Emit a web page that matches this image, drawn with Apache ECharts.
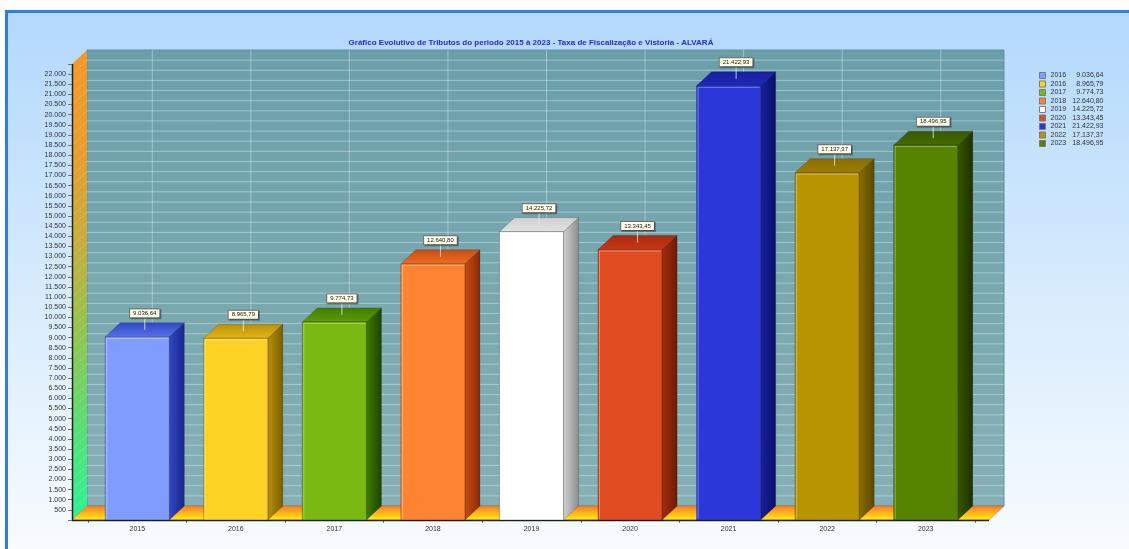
<!DOCTYPE html>
<html><head><meta charset="utf-8">
<script src="https://cdn.jsdelivr.net/npm/echarts@6/dist/echarts.min.js"></script>
<style>html,body{margin:0;padding:0;background:#fff}#c{width:1129px;height:549px}</style>
</head><body><div id="c"></div>
<script>
// ---- data ----
const categories = ['2015','2016','2017','2018','2019','2020','2021','2022','2023'];
const values = [9036.64, 8965.79, 9774.73, 12640.80, 14225.72, 13343.45, 21422.93, 17137.37, 18496.95];
const legendYears = ['2016','2016','2017','2018','2019','2020','2021','2022','2023'];
const yMin = 0, yMax = 22500, yStep = 500;
const titleText = 'Gráfico Evolutivo de Tributos do periodo 2015 à 2023 - Taxa de Fiscalização e Vistoria - ALVARÁ';

// ---- styles ----
const frontColors = ['#7f9cfe','#fcd225','#79b911','#fe8431','#ffffff','#e14b21','#2b37d9','#b89400','#568300'];
const topColors   = ['#5670e5','#e6b414','#5e9c07','#ee6e22','#e2e2e2','#c93715','#1f29b8','#9c7c00','#456b00'];
const sideColors  = ['#3048c8','#b8900a','#3f7d00','#c84c12','#d0d0d0','#a82c0c','#1820a0','#8a6e00','#385800'];
const sideDark    = ['#18258a','#7a5e00','#1c4400','#8a2a05','#8c8c8c','#6c1a05','#0a0f68','#5a4800','#1c3000'];
const DX = 15, DY = 14;
const FONT = 'Liberation Sans, Arial, sans-serif';

function fmt(v, dec) {
  const s = v.toFixed(dec);
  const parts = s.split('.');
  const int = parts[0].replace(/\B(?=(\d{3})+(?!\d))/g, '.');
  return dec ? int + ',' + parts[1] : int;
}
const LG = echarts.graphic.LinearGradient;

const chart = echarts.init(document.getElementById('c'), null, {renderer: 'canvas'});

function renderBackground(params, api) {
  const n = categories.length;
  const bw = api.size([1, 0])[0];
  const pFirst = api.coord([0, yMin]);
  const pLast = api.coord([n - 1, yMin]);
  const pTop = api.coord([0, yMax]);
  const fl = pFirst[0] - bw / 2 - 16;
  const fr = pLast[0] + bw / 2 + 14;
  const y0 = pFirst[1], yt = pTop[1];
  const ch = [];
  // back wall
  ch.push({type: 'polygon', shape: {points: [[fl + DX, yt - DY], [fr + DX, yt - DY], [fr + DX, y0 - DY], [fl + DX, y0 - DY]]},
    style: {fill: new LG(0, 0, 0, 1, [{offset: 0, color: '#6a9faa'}, {offset: 1, color: '#86b0b5'}]), stroke: '#5d8f99', lineWidth: 1}});
  // left wall
  ch.push({type: 'polygon', shape: {points: [[fl, yt], [fl + DX, yt - DY], [fl + DX, y0 - DY], [fl, y0]]},
    style: {fill: new LG(0, 0, 0, 1, [{offset: 0, color: '#f59828'}, {offset: 0.22, color: '#e89e2e'}, {offset: 0.42, color: '#c4ae3e'}, {offset: 0.6, color: '#92c650'}, {offset: 0.8, color: '#5ade74'}, {offset: 1, color: '#2cf496'}])}});
  // gridlines
  for (let v = yMin + yStep; v < yMax; v += yStep) {
    const y = api.coord([0, v])[1];
    ch.push({type: 'line', shape: {x1: fl + DX, y1: y - DY, x2: fr + DX, y2: y - DY}, style: {stroke: 'rgba(215,232,235,0.5)', lineWidth: 1}});
    ch.push({type: 'line', shape: {x1: fl, y1: y, x2: fl + DX, y2: y - DY}, style: {stroke: 'rgba(255,255,255,0.15)', lineWidth: 1}});
  }
  for (let i = 0; i < n; i++) {
    const x = api.coord([i, 0])[0] + DX;
    ch.push({type: 'line', shape: {x1: x, y1: yt - DY, x2: x, y2: y0 - DY}, style: {stroke: 'rgba(215,232,235,0.5)', lineWidth: 1}});
  }
  // floor
  ch.push({type: 'polygon', shape: {points: [[fl, y0], [fl + DX, y0 - DY], [fr + DX, y0 - DY], [fr, y0]]},
    style: {fill: new LG(0, 0, 0, 1, [{offset: 0, color: '#f47c2c'}, {offset: 0.5, color: '#ffb41a'}, {offset: 1, color: '#fff10a'}]), stroke: '#c46a20', lineWidth: 0.5}});
  ch.push({type: 'line', shape: {x1: fl, y1: y0 + 0.5, x2: fr, y2: y0 + 0.5}, style: {stroke: '#222', lineWidth: 1.5}});
  ch.push({type: 'line', shape: {x1: fl + 0.5, y1: yt, x2: fl + 0.5, y2: y0}, style: {stroke: '#222', lineWidth: 1.5}});
  return {type: 'group', children: ch};
}

function makeBarRenderer(i) {
  return function (params, api) {
    const idx = api.value(0), v = api.value(1);
    const base = api.coord([idx, yMin]);
    const top = api.coord([idx, v]);
    const bw = api.size([1, 0])[0];
    const w = bw * 0.65;
    const x0 = base[0] - w / 2, x1 = base[0] + w / 2, yb = base[1], yt = top[1];
    const cx = base[0] + DX / 2;
    return {type: 'group', children: [
      {type: 'polygon', shape: {points: [[x1, yt], [x1 + DX, yt - DY], [x1 + DX, yb - DY], [x1, yb]]},
        style: {fill: new LG(0, 0, 1, 0, [{offset: 0, color: sideColors[i]}, {offset: 1, color: sideDark[i]}]), stroke: 'rgba(0,0,0,0.35)', lineWidth: 0.5}},
      {type: 'polygon', shape: {points: [[x0, yt], [x0 + DX, yt - DY], [x1 + DX, yt - DY], [x1, yt]]},
        style: {fill: new LG(0, 1, 0, 0, [{offset: 0, color: topColors[i]}, {offset: 1, color: sideColors[i]}]), stroke: 'rgba(0,0,0,0.35)', lineWidth: 0.5}},
      {type: 'rect', shape: {x: x0, y: yt, width: w, height: yb - yt},
        style: {fill: frontColors[i], stroke: 'rgba(0,0,0,0.35)', lineWidth: 0.8}},
      {type: 'line', shape: {x1: x0 + 1.5, y1: yt + 1.5, x2: x0 + 1.5, y2: yb - 1}, style: {stroke: 'rgba(255,255,255,0.35)', lineWidth: 1}},
      {type: 'line', shape: {x1: x0 + 1.5, y1: yt + 1.5, x2: x1 - 1, y2: yt + 1.5}, style: {stroke: 'rgba(255,255,255,0.35)', lineWidth: 1}},
      {type: 'line', shape: {x1: cx, y1: yt - DY / 2, x2: cx, y2: yt - 19}, style: {stroke: 'rgba(235,240,240,0.8)', lineWidth: 1}},
      {type: 'text', x: cx, y: yt - 23.5,
        style: {text: fmt(v, 2), align: 'center', verticalAlign: 'middle', fontSize: 6, fontFamily: FONT, fill: '#222',
          backgroundColor: '#fffbe6', borderColor: '#6f6f6f', borderWidth: 1, padding: [1, 3, 1, 3],
          shadowColor: 'rgba(0,0,0,0.3)', shadowOffsetX: 1, shadowOffsetY: 1}}
    ]};
  };
}

const series = [{
  type: 'custom', name: 'bg', silent: true, z: 1, data: [[0, 0]], renderItem: renderBackground
}];
categories.forEach((c, i) => {
  series.push({
    type: 'custom', name: 's' + i, z: 3 + i, data: [[i, values[i]]],
    itemStyle: {color: frontColors[i]}, renderItem: makeBarRenderer(i)
  });
});

chart.setOption({
  backgroundColor: '#ffffff',
  animation: false,
  graphic: [{
    type: 'rect', z: -10, silent: true,
    shape: {x: 6.5, y: 11.5, width: 1140, height: 560},
    style: {fill: new LG(0, 0, 0, 1, [{offset: 0, color: '#b2d8fd'}, {offset: 0.55, color: '#dbedfd'}, {offset: 1, color: '#fbfdff'}]), stroke: '#2e7fdb', lineWidth: 3}
  }],
  title: {
    text: titleText, left: 526, top: 34, textAlign: 'center',
    textStyle: {fontSize: 8, fontWeight: 'bold', color: '#2828d2', fontFamily: FONT}
  },
  legend: {
    orient: 'vertical', left: 1039, top: 72, padding: 0, itemWidth: 6, itemHeight: 6, itemGap: 1.5, icon: 'rect', selectedMode: false,
    data: categories.map((c, i) => 's' + i),
    itemStyle: {borderColor: '#7a7a7a', borderWidth: 1},
    textStyle: {fontSize: 7, color: '#333', fontFamily: FONT, lineHeight: 7,
      rich: {y: {fontSize: 7, width: 24, color: '#333', fontFamily: FONT, lineHeight: 7},
             v: {fontSize: 7, width: 29, align: 'right', color: '#333', fontFamily: FONT, lineHeight: 7}}},
    formatter: function (name) {
      const i = +name.slice(1);
      return '{y|' + legendYears[i] + '}{v|' + fmt(values[i], 2) + '}';
    }
  },
  grid: {left: 88, right: 154, top: 64, bottom: 29, containLabel: false},
  xAxis: {
    type: 'category', data: categories,
    axisLine: {show: false},
    axisTick: {show: true, length: 3, lineStyle: {color: '#777'}},
    axisLabel: {fontSize: 7, color: '#333', fontFamily: FONT, margin: 6},
    splitLine: {show: false}
  },
  yAxis: {
    type: 'value', min: yMin, max: yMax, interval: yStep, offset: 16,
    axisLine: {show: false},
    axisTick: {show: true, length: 4, lineStyle: {color: '#777'}},
    axisLabel: {fontSize: 7, color: '#333', fontFamily: FONT, margin: 6,
      formatter: v => (v === yMin || v === yMax) ? '' : fmt(v, 0)},
    splitLine: {show: false}
  },
  series: series
});
</script></body></html>
